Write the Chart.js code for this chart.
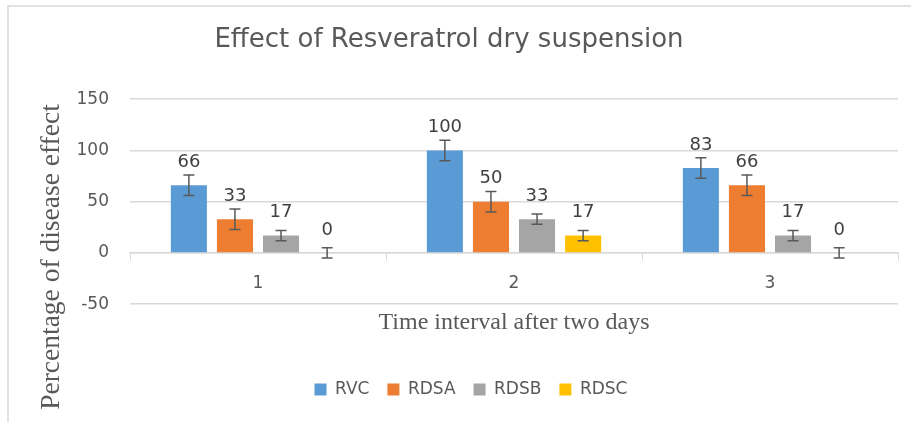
<!DOCTYPE html>
<html>
<head>
<meta charset="utf-8">
<title>Effect of Resveratrol dry suspension</title>
<script src="https://cdn.jsdelivr.net/npm/chart.js@4.4.1/dist/chart.umd.min.js"></script>
<style>
  html, body { margin: 0; padding: 0; background: #fff; }
  #wrap { width: 911px; height: 422px; position: relative; }
</style>
</head>
<body>
<div id="wrap"><canvas id="grafico"></canvas></div>
<script>
// DADOS
const categorias = ["1", "2", "3"];
const series = ["RVC", "RDSA", "RDSB", "RDSC"];
const valoresRVC = [66, 100, 83];
const valoresRDSA = [33, 50, 66];
const valoresRDSB = [17, 33, 17];
const valoresRDSC = [0, 17, 0];
const erroRVC = [10, 10, 10];
const erroRDSA = [10, 10, 10];
const erroRDSB = [5, 5, 5];
const erroRDSC = [5, 5, 5];
const yTicks = [-50, 0, 50, 100, 150];

const cores = ["#5b9bd5", "#ed7d31", "#a5a5a5", "#ffc000"];
const valores = [valoresRVC, valoresRDSA, valoresRDSB, valoresRDSC];
const erros = [erroRVC, erroRDSA, erroRDSB, erroRDSC];

const SANS = "'DejaVu Sans', sans-serif";
const SERIF = "'Liberation Serif', 'Times New Roman', serif";

// moldura, titulo do eixo y, barras de erro e rotulos
const extras = {
  id: "extras",
  afterLayout(chart) {
    // legenda um pouco à direita, como no original
    chart.legend.left += 22;
    chart.legend.right += 22;
  },
  beforeDraw(chart) {
    const ctx = chart.ctx;
    ctx.save();
    ctx.strokeStyle = "#d9d9d9";
    ctx.lineWidth = 1.5;
    ctx.beginPath();
    ctx.moveTo(8, chart.height);
    ctx.lineTo(8, 6);
    ctx.lineTo(chart.width, 6);
    ctx.stroke();
    ctx.restore();
  },
  afterDatasetsDraw(chart) {
    const ctx = chart.ctx;
    const y = chart.scales.y;
    ctx.save();
    chart.data.datasets.forEach((ds, i) => {
      const meta = chart.getDatasetMeta(i);
      meta.data.forEach((bar, j) => {
        const v = ds.data[j];
        const e = erros[i][j];
        const yt = y.getPixelForValue(v + e);
        const yb = y.getPixelForValue(v - e);
        ctx.strokeStyle = "#595959";
        ctx.lineWidth = 1.5;
        ctx.beginPath();
        ctx.moveTo(bar.x, yt); ctx.lineTo(bar.x, yb);
        ctx.moveTo(bar.x - 5.5, yt); ctx.lineTo(bar.x + 5.5, yt);
        ctx.moveTo(bar.x - 5.5, yb); ctx.lineTo(bar.x + 5.5, yb);
        ctx.stroke();
        ctx.fillStyle = "#404040";
        ctx.font = "18px " + SANS;
        ctx.textAlign = "center";
        ctx.textBaseline = "middle";
        ctx.fillText(String(v), bar.x, y.getPixelForValue(v) - 23);
      });
    });
    // titulo do eixo y
    ctx.translate(52, 257);
    ctx.rotate(-Math.PI / 2);
    ctx.fillStyle = "#595959";
    ctx.font = "27.5px " + SERIF;
    ctx.textAlign = "center";
    ctx.textBaseline = "middle";
    ctx.fillText("Percentage of disease effect", 0, 0);
    ctx.restore();
  }
};

new Chart(document.getElementById("grafico"), {
  type: "bar",
  data: {
    labels: categorias,
    datasets: series.map((s, i) => ({
      label: s,
      data: valores[i],
      backgroundColor: cores[i],
      borderWidth: 0,
      categoryPercentage: 0.72,
      barPercentage: 0.783
    }))
  },
  options: {
    responsive: true,
    maintainAspectRatio: false,
    animation: false,
    layout: { padding: { left: 0, right: 13, top: 0, bottom: 14 } },
    scales: {
      x: {
        position: { y: 0 },
        grid: { display: true, drawOnChartArea: false, drawTicks: true, tickLength: 7, color: "#d9d9d9", offset: true },
        border: { display: true, color: "#d9d9d9", width: 1.5 },
        ticks: { color: "#595959", font: { family: SANS, size: 17 }, padding: 13 }
      },
      y: {
        min: -50,
        max: 150,
        afterFit(scale) { scale.width = 130; },
        afterBuildTicks(scale) { scale.ticks = yTicks.map(v => ({ value: v })); },
        grid: { color: "#d9d9d9", lineWidth: 1.5, drawTicks: false },
        border: { display: false },
        ticks: { color: "#595959", font: { family: SANS, size: 17 }, padding: 21 }
      }
    },
    plugins: {
      title: {
        display: true,
        text: "Effect of Resveratrol dry suspension",
        color: "#595959",
        font: { family: SANS, size: 26, weight: "normal" },
        padding: { top: 25, bottom: 43 }
      },
      subtitle: {
        display: true,
        position: "bottom",
        fullSize: false,
        weight: 500,
        text: "Time interval after two days",
        color: "#595959",
        font: { family: SERIF, size: 24, weight: "normal" },
        padding: { top: 4, bottom: 26 }
      },
      legend: {
        position: "bottom",
        weight: 1000,
        labels: {
          boxWidth: 12,
          boxHeight: 12,
          padding: 18,
          color: "#595959",
          font: { family: SANS, size: 17 }
        }
      },
      tooltip: { enabled: false }
    }
  },
  plugins: [extras]
});
</script>
</body>
</html>
